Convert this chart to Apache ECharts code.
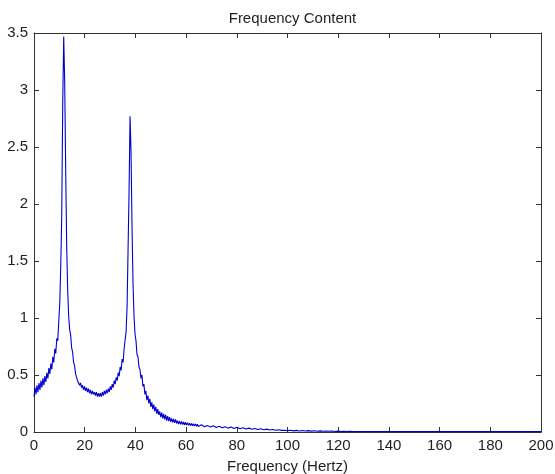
<!DOCTYPE html>
<html>
<head>
<meta charset="utf-8">
<script src="https://cdn.jsdelivr.net/npm/echarts@6/dist/echarts.min.js"></script>
<style>
html,body{margin:0;padding:0;background:#fff;}
#chart{width:555px;height:474px;}
</style>
</head>
<body>
<div id="chart"></div>
<script>
// FFT bin spacing (Hz) of the dense part of the spectrum
var binStep = 0.390625;
// Magnitude per bin (bins 0..326)
var spectrum = [
0.31,0.39,0.33,0.41,0.35,0.43,0.37,0.45,0.39,0.47,
0.41,0.49,0.44,0.52,0.47,0.56,0.51,0.60,0.55,0.66,
0.61,0.73,0.69,0.82,0.80,0.97,1.12,1.45,1.89,2.87,
3.47,3.07,2.30,1.64,1.25,1.02,0.90,0.85,0.74,0.70,
0.61,0.58,0.51,0.50,0.45,0.45,0.41,0.43,0.39,0.41,
0.37,0.40,0.36,0.39,0.35,0.38,0.34,0.37,0.33,0.36,
0.33,0.35,0.32,0.35,0.31,0.34,0.31,0.34,0.31,0.35,
0.32,0.36,0.33,0.37,0.34,0.38,0.35,0.40,0.37,0.42,
0.39,0.45,0.42,0.48,0.45,0.52,0.49,0.57,0.54,0.64,
0.61,0.73,0.72,0.88,1.10,1.60,2.11,2.77,2.45,1.80,
1.30,1.02,0.86,0.80,0.68,0.66,0.57,0.55,0.47,0.50,
0.40,0.42,0.33,0.36,0.28,0.32,0.25,0.29,0.22,0.26,
0.20,0.24,0.18,0.22,0.16,0.20,0.15,0.18,0.13,0.17,
0.12,0.16,0.11,0.15,0.10,0.14,0.095,0.13,0.09,0.12,
0.085,0.115,0.08,0.11,0.075,0.10,0.07,0.095,0.068,0.092,
0.065,0.088,0.062,0.085,0.06,0.082,0.058,0.078,0.056,0.075,
0.054,0.072,0.052,0.07,0.05,0.068,0.049,0.066,0.048,0.064,
0.047,0.062,0.046,0.06,0.045,0.058,0.044,0.057,0.043,0.055,
0.042,0.054,0.041,0.053,0.04,0.052,0.039,0.05,0.038,0.049,
0.037,0.048,0.036,0.047,0.035,0.046,0.034,0.045,0.033,0.044,
0.032,0.043,0.031,0.042,0.03,0.041,0.029,0.04,0.028,0.038,
0.028,0.037,0.027,0.036,0.026,0.035,0.025,0.034,0.025,0.033,
0.024,0.032,0.023,0.031,0.022,0.03,0.022,0.029,0.021,0.028,
0.02,0.026,0.02,0.026,0.019,0.025,0.018,0.024,0.018,0.023,
0.017,0.022,0.016,0.021,0.016,0.02,0.015,0.019,0.014,0.018,
0.014,0.017,0.013,0.016,0.012,0.015,0.012,0.016,0.011,0.015,
0.011,0.015,0.010,0.014,0.010,0.014,0.010,0.013,0.009,0.013,
0.009,0.013,0.009,0.012,0.009,0.012,0.008,0.012,0.008,0.011,
0.008,0.011,0.008,0.011,0.007,0.011,0.007,0.010,0.007,0.010,
0.007,0.010,0.007,0.010,0.006,0.009,0.006,0.009,0.006,0.009,
0.006,0.009,0.006,0.008,0.005,0.008,0.005,0.008,0.005,0.008,
0.005,0.007,0.005,0.007,0.005,0.007,0.004,0.007,0.004,0.006,
0.004,0.006,0.004,0.006,0.004,0.005,0.004
];
// Sparse flat tail beyond the dense bins
var tailFreq = [130, 160, 200];
var tailVals = [0.004, 0.003, 0.003];

var xTicks = [0,20,40,60,80,100,120,140,160,180,200];
var yTicks = [0,0.5,1,1.5,2,2.5,3,3.5];

var lineData = spectrum.map(function(v,i){ return [i*binStep, v]; });
tailFreq.forEach(function(f,i){ lineData.push([f, tailVals[i]]); });

var axisCol = '#333333';
var txtCol = '#1e1e1e';
var font = 'Liberation Sans, Arial, sans-serif';

function axisCommon(){
  return {
    axisLine:{show:true, onZero:false, lineStyle:{color:axisCol, width:1}},
    axisTick:{show:true, inside:true, length:5, lineStyle:{color:axisCol, width:1}},
    splitLine:{show:false}
  };
}

var xMain = Object.assign(axisCommon(), {
  type:'value', position:'bottom', min:xTicks[0], max:xTicks[xTicks.length-1], interval:20,
  name:'Frequency (Hertz)', nameLocation:'middle', nameGap:27,
  nameTextStyle:{fontFamily:font, fontSize:15, color:txtCol},
  axisLabel:{fontFamily:font, fontSize:15, color:txtCol, margin:6}
});
var xTop = Object.assign(axisCommon(), {
  type:'value', position:'top', min:xTicks[0], max:xTicks[xTicks.length-1], interval:20,
  axisLabel:{show:false}
});
var yMain = Object.assign(axisCommon(), {
  type:'value', position:'left', min:yTicks[0], max:yTicks[yTicks.length-1], interval:0.5,
  axisLabel:{fontFamily:font, fontSize:15, color:txtCol, margin:6}
});
var yRight = Object.assign(axisCommon(), {
  type:'value', position:'right', min:yTicks[0], max:yTicks[yTicks.length-1], interval:0.5,
  axisLabel:{show:false}
});

var chart = echarts.init(document.getElementById('chart'), null, {renderer:'canvas'});
chart.setOption({
  animation:false,
  backgroundColor:'#fff',
  title:{
    text:'Frequency Content', left:287.5, textAlign:'center', top:6,
    textStyle:{fontFamily:font, fontSize:15, fontWeight:'normal', color:txtCol}
  },
  grid:{left:34, right:14, top:33, bottom:42, show:false, containLabel:false, outerBoundsMode:'none'},
  xAxis:[xMain, xTop],
  yAxis:[yMain, yRight],
  series:[{
    type:'line', data:lineData, xAxisIndex:0, yAxisIndex:0,
    showSymbol:false, symbol:'none',
    lineStyle:{color:'#0000d0', width:1.1},
    z:3
  }]
});
</script>
</body>
</html>
